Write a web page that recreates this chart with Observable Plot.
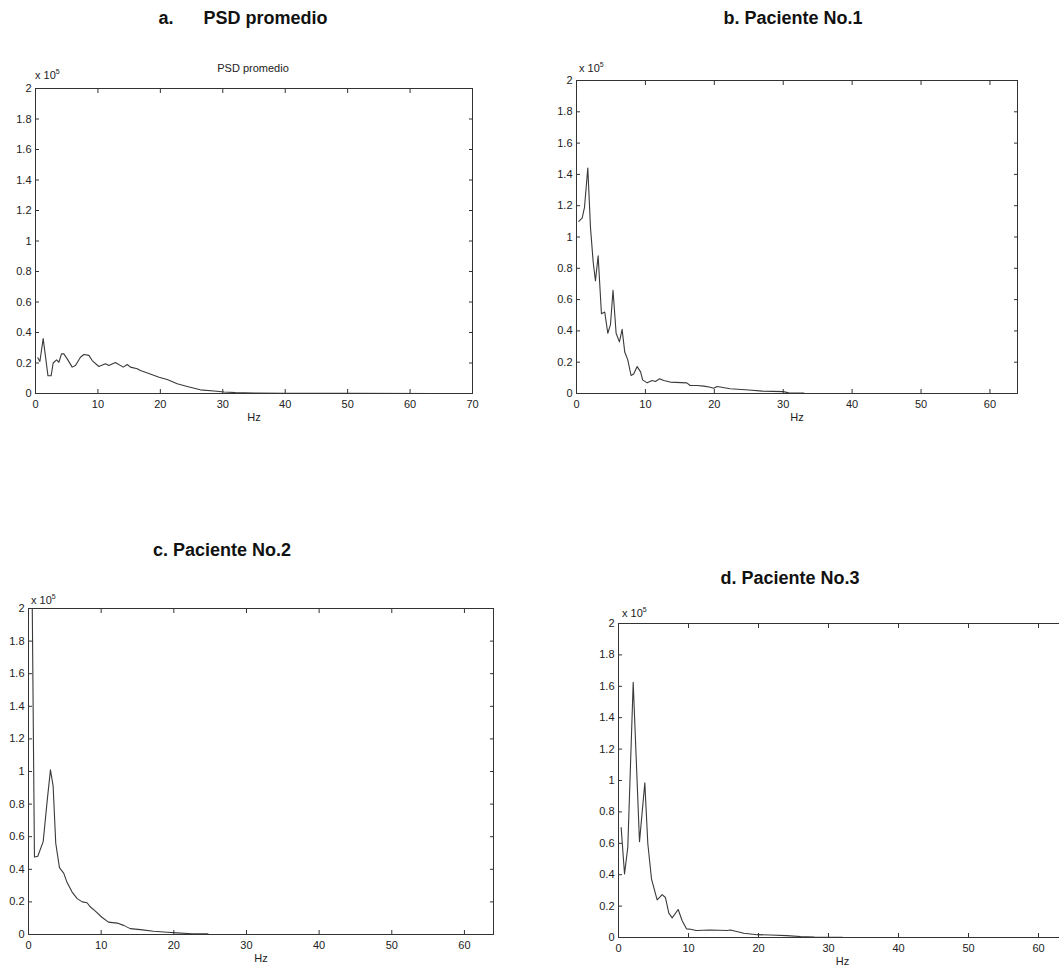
<!DOCTYPE html>
<html><head><meta charset="utf-8">
<script src="https://cdn.jsdelivr.net/npm/d3@7"></script>
<script src="https://cdn.jsdelivr.net/npm/@observablehq/plot@0.6"></script>
<style>
body{margin:0;background:#fff;font-family:"Liberation Sans",Arial,sans-serif;}
#root{position:relative;width:1059px;height:974px;overflow:hidden;background:#fff;}
.panel{position:absolute;}
.title{position:absolute;font-weight:bold;font-size:18px;white-space:pre;transform:translate(-50%,-50%);color:#111;}
.note{position:absolute;font-size:11px;color:#222;white-space:pre;line-height:1;}
.note sup{font-size:7px;vertical-align:5px;}
</style></head><body><div id="root"></div>
<script>
// Values in units of 1e5 (power spectral density), frequency in Hz
const freqA = [0.37,0.7,1.23,2.0,2.5,2.83,3.37,3.74,4.17,4.54,5.08,5.88,6.4,7.2,7.75,8.55,9.08,10.15,11.2,11.75,12.8,14.05,14.7,15.2,16.3,16.8,17.6,19.8,21.1,22.7,24.3,26.4,28.6,30.2,32,35,40,50,64];
const valA  = [0.234,0.21,0.36,0.116,0.116,0.2,0.22,0.205,0.26,0.26,0.227,0.173,0.184,0.238,0.256,0.25,0.216,0.177,0.195,0.184,0.203,0.173,0.19,0.173,0.162,0.151,0.14,0.107,0.092,0.064,0.046,0.024,0.016,0.01,0.006,0.003,0.001,0.0005,0.0003];

const freqB = [0.34,0.82,1.16,1.64,2.03,2.42,2.75,3.14,3.62,4.1,4.54,4.93,5.3,5.75,6.23,6.62,7.0,7.44,7.92,8.3,8.8,9.3,9.6,10.25,10.97,11.45,12.07,12.65,13.6,16.0,16.5,17.5,18.5,19.4,19.9,20.4,22.3,25,27,30,30.8,33];
const valB  = [1.10,1.12,1.19,1.44,1.06,0.84,0.72,0.88,0.51,0.52,0.385,0.44,0.66,0.385,0.33,0.41,0.265,0.215,0.115,0.125,0.172,0.138,0.087,0.068,0.083,0.077,0.094,0.083,0.073,0.068,0.051,0.051,0.047,0.04,0.034,0.045,0.03,0.022,0.015,0.012,0.004,0.003];

const freqC = [0.5,0.82,1.28,2.02,2.57,3.02,3.39,3.75,4.26,4.86,5.3,6.0,6.7,7.4,8.06,8.5,9.2,10.1,11.0,12.2,13.1,14.0,15.4,17.2,19.1,20.4,22.5,24.7];
const valC  = [2.1,0.475,0.48,0.57,0.82,1.01,0.91,0.56,0.41,0.375,0.32,0.26,0.22,0.20,0.195,0.17,0.143,0.106,0.076,0.07,0.056,0.036,0.03,0.02,0.014,0.01,0.005,0.004];

const freqD = [0.38,0.86,1.33,2.1,3.0,3.76,4.19,4.71,5.52,6.24,6.7,7.19,7.67,8.52,9.1,9.71,10.3,11.1,13.1,15.5,16.0,17.9,19.8,21.7,24,26,28,32];
const valD  = [0.70,0.405,0.575,1.625,0.61,0.985,0.597,0.374,0.24,0.273,0.255,0.155,0.125,0.178,0.107,0.055,0.053,0.045,0.048,0.045,0.048,0.027,0.018,0.016,0.012,0.006,0.003,0.002];

const yTicks = [0,0.2,0.4,0.6,0.8,1,1.2,1.4,1.6,1.8,2];
const xTicks70 = [0,10,20,30,40,50,60,70];
const xTicks60 = [0,10,20,30,40,50,60];

const titles = ["a.      PSD promedio","b. Paciente No.1","c. Paciente No.2","d. Paciente No.3"];
const subtitleA = "PSD promedio";

const root = document.getElementById("root");
const axisColor = "#333";
const lineColor = "#3a3a3a";

function panel(freq, val, xmax, xTicks, g){
  const data = freq.map((f,i)=>({f, v: val[i]}));
  const p = Plot.plot({
    width: g.w, height: g.h,
    marginLeft: g.ml, marginTop: g.mt, marginRight: g.mr, marginBottom: g.mb,
    style: {fontFamily: "'Liberation Sans', Arial, sans-serif", fontSize: "11px", color: "#222", background: "transparent", overflow: "visible"},
    x: {domain: [0, xmax]},
    y: {domain: [0, 2]},
    marks: [
      Plot.line(data, {x: "f", y: "v", stroke: lineColor, strokeWidth: 1.1, clip: true}),
      Plot.frame({stroke: axisColor, strokeWidth: 1}),
      Plot.axisX(xTicks, {anchor: "bottom", tickSize: 0, tickPadding: 7, label: null, tickFormat: d => String(d)}),
      Plot.axisX(xTicks, {anchor: "bottom", text: null, tickSize: -4, label: null, stroke: axisColor}),
      Plot.axisX(xTicks, {anchor: "top", text: null, tickSize: -4, label: null, stroke: axisColor}),
      Plot.axisY(yTicks, {anchor: "left", tickSize: 0, tickPadding: 4, label: null, tickFormat: d => String(d)}),
      Plot.axisY(yTicks, {anchor: "left", text: null, tickSize: -4, label: null, stroke: axisColor}),
      Plot.axisY(yTicks, {anchor: "right", text: null, tickSize: -4, label: null, stroke: axisColor}),
      Plot.text(["Hz"], {frameAnchor: "bottom", dy: 27, fontSize: 11, fill: "#222"})
    ]
  });
  p.classList.add("panel");
  p.style.left = g.left + "px";
  p.style.top = g.top + "px";
  root.appendChild(p);
}

panel(freqA, valA, 70, xTicks70, {left: 0, top: 60, w: 500, h: 370, ml: 35, mt: 28, mr: 28, mb: 37});
panel(freqB, valB, 64, xTicks60, {left: 540, top: 55, w: 500, h: 370, ml: 36, mt: 25, mr: 23, mb: 32});
panel(freqC, valC, 64, xTicks60, {left: 0, top: 585, w: 520, h: 385, ml: 28, mt: 23, mr: 27, mb: 36});
panel(freqD, valD, 64, xTicks60, {left: 580, top: 600, w: 500, h: 370, ml: 38, mt: 23, mr: 14, mb: 33});

function addDiv(cls, html, x, y){
  const d = document.createElement("div");
  d.className = cls; d.innerHTML = html;
  d.style.left = x + "px"; d.style.top = y + "px";
  root.appendChild(d);
  return d;
}
addDiv("title", titles[0], 243, 18);
addDiv("title", titles[1], 793, 18);
addDiv("title", titles[2], 222, 550);
addDiv("title", titles[3], 790, 578);

const expHtml = "x 10<sup>5</sup>";
addDiv("note", expHtml, 35, 68);
addDiv("note", expHtml, 579, 61);
addDiv("note", expHtml, 31, 593);
addDiv("note", expHtml, 622, 606);
const s = addDiv("note", subtitleA, 253, 63);
s.style.transform = "translateX(-50%)";
</script>
</body></html>
